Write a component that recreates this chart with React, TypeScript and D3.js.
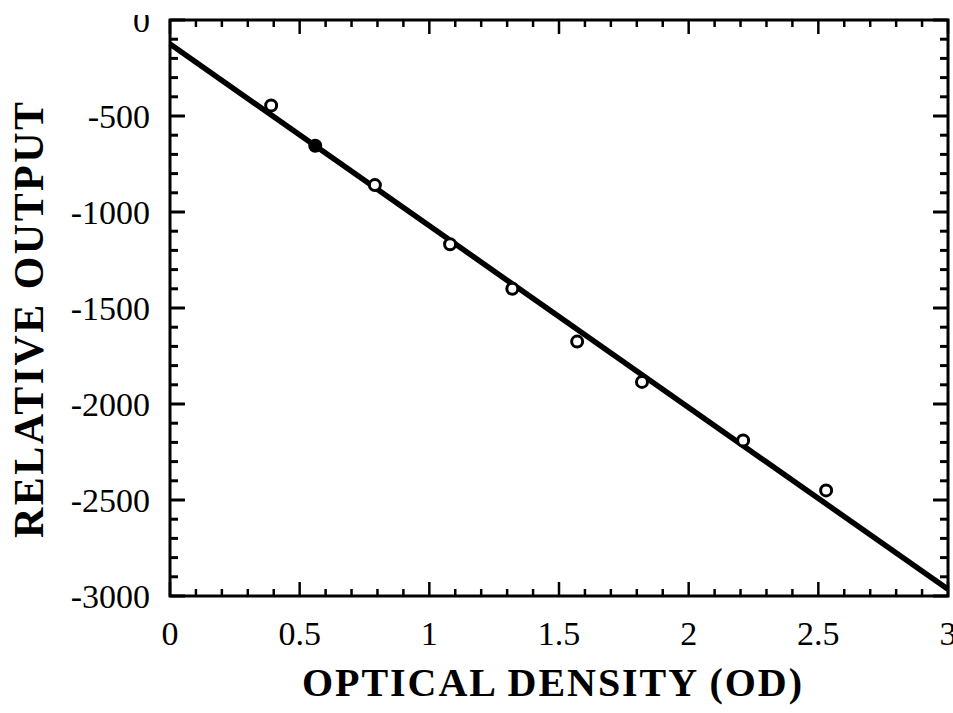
import React from 'react';
import * as d3 from 'd3';

// measured points (optical density vs. relative output)
const odValues = [0.39, 0.56, 0.79, 1.08, 1.32, 1.57, 1.82, 2.21, 2.53];
const outputValues = [-445, -655, -860, -1168, -1400, -1675, -1885, -2190, -2450];
const filledPoint = [false, true, false, false, false, false, false, false, false];

// fitted line end points
const fitX = [0, 3];
const fitY = [-125, -2965];

const xTickLabels = ['0', '0.5', '1', '1.5', '2', '2.5', '3'];
const yTickLabels = ['0', '-500', '-1000', '-1500', '-2000', '-2500', '-3000'];

const W = 953, H = 713;
const margin = { left: 170, right: 5, top: 20, bottom: 117 };

export default function App() {
  const x = d3.scaleLinear().domain([0, 3]).range([margin.left, W - margin.right]);
  const y = d3.scaleLinear().domain([-3000, 0]).range([H - margin.bottom, margin.top]);

  const xMinor = d3.range(0, 31).map(i => i / 10);
  const yMinor = d3.range(0, 31).map(i => -i * 100);

  const fitLine = d3.line<number>()
    .x((d, i) => x(fitX[i]))
    .y((d, i) => y(fitY[i]))(fitX);

  const serif = '"Liberation Serif", "DejaVu Serif", serif';
  const x0 = x(0), x1 = x(3), y0 = y(0), y1 = y(-3000);

  return (
    <svg width={W} height={H} style={{ position: 'absolute', left: 0, top: 0, background: '#fff' }}>
      <defs>
        <clipPath id="page">
          <rect x={0} y={15} width={W} height={H} />
        </clipPath>
      </defs>

      {/* x ticks, bottom and top, inward */}
      {xMinor.map((v, i) => {
        const major = i % 5 === 0;
        const len = major ? 14 : 7;
        return (
          <g key={'xt' + i} stroke="#000" strokeWidth={2.5}>
            <line x1={x(v)} x2={x(v)} y1={y1} y2={y1 - len} />
            <line x1={x(v)} x2={x(v)} y1={y0} y2={y0 + len} />
          </g>
        );
      })}

      {/* y ticks, left and right, inward */}
      {yMinor.map((v, i) => {
        const major = i % 5 === 0;
        const len = major ? 15 : 8;
        return (
          <g key={'yt' + i} stroke="#000" strokeWidth={3}>
            <line x1={x0} x2={x0 + len} y1={y(v)} y2={y(v)} />
            <line x1={x1} x2={x1 - len} y1={y(v)} y2={y(v)} />
          </g>
        );
      })}

      <rect x={x0} y={y0} width={x1 - x0} height={y1 - y0} fill="none" stroke="#000" strokeWidth={3} />

      {/* tick labels */}
      {xTickLabels.map((t, i) => (
        <text key={'xl' + i} x={x(+t)} y={645} textAnchor="middle"
          fontFamily={serif} fontSize={34} fill="#000">{t}</text>
      ))}
      <g clipPath="url(#page)">
        {yTickLabels.map((t, i) => (
          <text key={'yl' + i} x={150} y={y(+t)} dy="0.34em" textAnchor="end"
            fontFamily={serif} fontSize={34} fill="#000">{t}</text>
        ))}
      </g>

      {/* fitted line */}
      <path d={fitLine || ''} stroke="#000" strokeWidth={5.5} fill="none" />

      {/* data points */}
      {odValues.map((v, i) => (
        <circle key={'p' + i} cx={x(v)} cy={y(outputValues[i])} r={5.5}
          fill={filledPoint[i] ? '#000' : '#fff'} stroke="#000" strokeWidth={3} />
      ))}

      {/* axis titles */}
      <text x={552} y={696} textAnchor="middle" fontFamily={serif} fontWeight="bold"
        fontSize={40} textLength={500} lengthAdjust="spacing" fill="#000">OPTICAL DENSITY (OD)</text>
      <text transform={`translate(43,320) rotate(-90)`} textAnchor="middle" fontFamily={serif}
        fontWeight="bold" fontSize={42} textLength={436} lengthAdjust="spacing" fill="#000">RELATIVE OUTPUT</text>
    </svg>
  );
}
